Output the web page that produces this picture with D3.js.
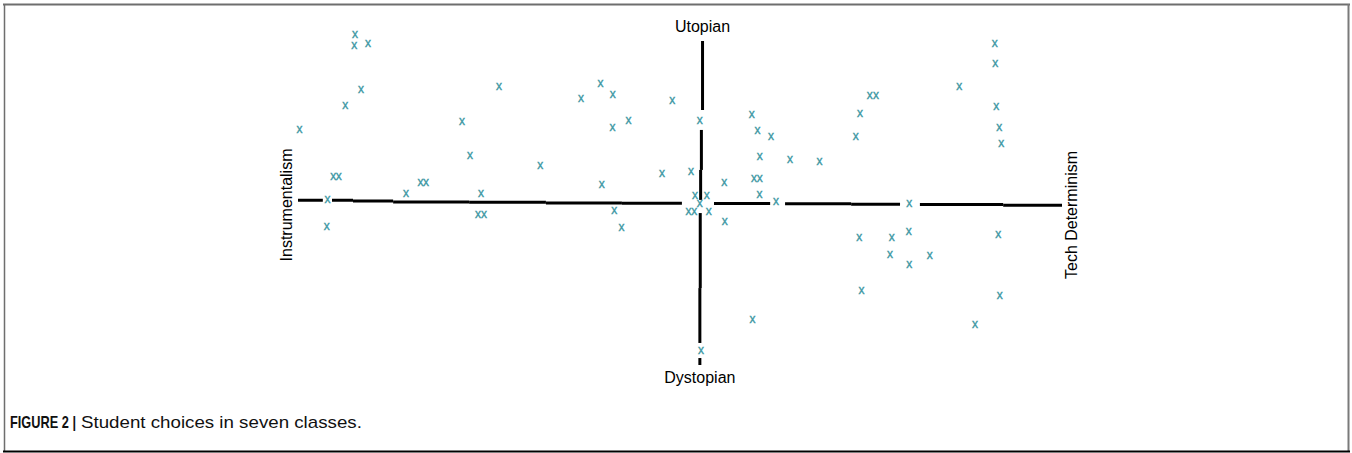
<!DOCTYPE html>
<html>
<head>
<meta charset="utf-8">
<script src="https://cdn.jsdelivr.net/npm/d3@7.8.5/dist/d3.min.js"></script>
<style>
  body { margin: 0; background: #fff; }
  svg { display: block; }
</style>
</head>
<body>
<div id="chart"></div>
<script>
// x: Instrumentalism (-100) .. Tech Determinism (+100)
// y: Dystopian (-100) .. Utopian (+100)
const choiceX = [
  -85.1, -85.3, -81.7, -83.5, -87.6, -99.6, -90.8, -89.3, -92.3, -92.5,
  -71.7, -67.9, -66.5, -57.1, -55.0, -52.1, -52.9, -51.3, -47.4, -36.6,
  -25.9, -20.8, -17.6, -17.7, -13.5, -2.0, -4.7, 2.9, -20.5, -17.2,
  -15.3, 5.2,
  3.9, 7.0, 5.2, 2.2, 3.7, 7.5, 11.6, 11.7,
  18.8, 20.3, 23.8, 20.9, 28.8, 36.5, 19.4, 20.9, 20.8, 25.1,
  47.1, 46.0, 49.7, 51.3, 73.1, 82.4, 82.5, 82.8, 83.6, 84.1,
  60.0, 46.9, 55.4, 59.9, 55.0, 60.0, 65.4, 83.3, 47.5, 83.7,
  19.0, 77.2, 5.5
];
const choiceY = [
  104.1, 97.1, 98.3, 69.6, 60.1, 45.5, 16.2, 16.2, 1.9, -14.8,
  5.7, 12.8, 12.8, 50.4, 29.4, 6.0, -7.0, -7.0, 71.8, 23.0,
  64.6, 73.9, 66.7, 46.7, 50.6, 63.4, 18.1, 19.3, 11.5, -4.8,
  -15.0, 50.6,
  4.3, 4.3, -0.2, -5.7, -5.7, -5.6, 12.8, -11.7,
  54.3, 44.6, 40.9, 28.6, 26.5, 25.5, 15.0, 15.0, 4.8, 0.6,
  54.9, 40.6, 66.2, 66.2, 71.8, 98.0, 85.8, 59.4, 46.5, 36.6,
  -0.4, -21.4, -21.6, -17.9, -31.9, -38.1, -32.5, -19.3, -54.1, -57.4,
  -72.0, -75.1, -91.5
];

// hand-drawn axis pieces (gaps where marks sit on the line)
const hSegX1 = [-100, -91.1, -85.6, -75.1, -55.2, -35.1, -15.2, 8.9, 27.5, 44.8, 62.8, 84.6];
const hSegX2 = [-93.5, -85.6, -75.1, -55.2, -35.1, -15.2, 0.5, 23.6, 44.8, 57.6, 84.6, 100];
const hSegY = [1.7, 1.7, 1.2, 0.6, 0.4, 0, -0.2, -0.3, -0.5, -0.8, -1.0, -1.4];

const vSegX = [5.9, 5.6, 5.4, 5.3, 5.2, 5.2];
const vSegY1 = [100, 45.1, 20.4, -6.2, -52.5, -95.7];
const vSegY2 = [57.4, 20.4, 1.9, -52.5, -86.4, -100];

const poleLabels = ['Utopian', 'Dystopian', 'Instrumentalism', 'Tech Determinism'];
const captionBold = 'FIGURE 2 |';
const captionText = 'Student choices in seven classes.';

const width = 1352;
const height = 453;

const svg = d3.select('#chart').append('svg')
  .attr('width', width)
  .attr('height', height);

// frame
svg.append('line').attr('x1', 3).attr('x2', 1350).attr('y1', 4.5).attr('y2', 4.5)
  .style('stroke', '#6e6e6e').style('stroke-width', 2);
svg.append('line').attr('x1', 4.5).attr('x2', 4.5).attr('y1', 4).attr('y2', 452)
  .style('stroke', '#6e6e6e').style('stroke-width', 1.5);
svg.append('line').attr('x1', 1348.5).attr('x2', 1348.5).attr('y1', 4).attr('y2', 452)
  .style('stroke', '#7a7a7a').style('stroke-width', 2);
svg.append('line').attr('x1', 3).attr('x2', 1350).attr('y1', 451.5).attr('y2', 451.5)
  .style('stroke', '#000').style('stroke-width', 2);

const x = d3.scaleLinear().domain([-100, 100]).range([298, 1062]);
const y = d3.scaleLinear().domain([-100, 100]).range([365, 41]);

const g = svg.append('g');

// horizontal axis
g.selectAll('.hseg')
  .data(d3.range(hSegX1.length))
  .enter()
  .append('line')
  .attr('class', 'hseg')
  .attr('x1', i => x(hSegX1[i]))
  .attr('x2', i => x(hSegX2[i]))
  .attr('y1', i => y(hSegY[i]))
  .attr('y2', i => y(hSegY[i]))
  .style('stroke', '#000')
  .style('stroke-width', 3);

// vertical axis
g.selectAll('.vseg')
  .data(d3.range(vSegX.length))
  .enter()
  .append('line')
  .attr('class', 'vseg')
  .attr('x1', i => x(vSegX[i]))
  .attr('x2', i => x(vSegX[i]))
  .attr('y1', i => y(vSegY1[i]))
  .attr('y2', i => y(vSegY2[i]))
  .style('stroke', '#000')
  .style('stroke-width', 3);

// student choices
g.selectAll('.choice')
  .data(d3.range(choiceX.length))
  .enter()
  .append('text')
  .attr('class', 'choice')
  .attr('x', i => x(choiceX[i]))
  .attr('y', i => y(choiceY[i]))
  .attr('dy', '0.27em')
  .attr('text-anchor', 'middle')
  .style('font-family', 'Liberation Sans, Arial, sans-serif')
  .style('font-size', '12px')
  .style('fill', '#3a96a2')
  .style('stroke', '#3a96a2')
  .style('stroke-width', 0.35)
  .text('x');

const labelFont = 'Liberation Sans, Arial, sans-serif';

g.append('text')
  .attr('x', x(5.9))
  .attr('y', y(100) - 9)
  .attr('text-anchor', 'middle')
  .style('font-family', labelFont)
  .style('font-size', '16px')
  .text(poleLabels[0]);

g.append('text')
  .attr('x', x(5.2))
  .attr('y', y(-100) + 18)
  .attr('text-anchor', 'middle')
  .style('font-family', labelFont)
  .style('font-size', '16px')
  .text(poleLabels[1]);

g.append('text')
  .attr('transform', `translate(${x(-100) - 12},205) rotate(-90)`)
  .attr('dy', '0.35em')
  .attr('text-anchor', 'middle')
  .style('font-family', labelFont)
  .style('font-size', '16px')
  .text(poleLabels[2]);

g.append('text')
  .attr('transform', `translate(${x(100) + 9},215) rotate(-90)`)
  .attr('dy', '0.35em')
  .attr('text-anchor', 'middle')
  .style('font-family', labelFont)
  .style('font-size', '16px')
  .text(poleLabels[3]);

// caption: condensed face imitated by squeezing each part horizontally
function condensed(str, left, target, weight) {
  const t = svg.append('text')
    .style('font-family', '"Liberation Sans", Arial, sans-serif')
    .style('font-size', '16px')
    .style('font-weight', weight)
    .style('fill', '#111')
    .text(str);
  const k = target / t.node().getComputedTextLength();
  t.attr('transform', `translate(${left},428) scale(${k},1)`);
}
condensed(captionBold, 10, 66, 'bold');
condensed(captionText, 81, 281, 'normal');
</script>
</body>
</html>
